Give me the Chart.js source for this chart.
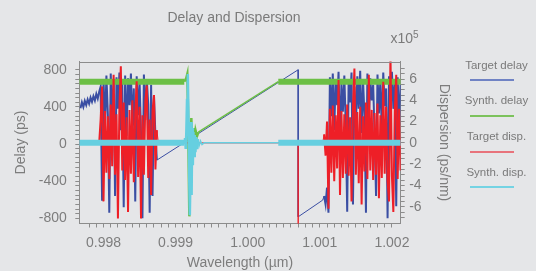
<!DOCTYPE html>
<html>
<head>
<meta charset="utf-8">
<title>Delay and Dispersion</title>
<script src="https://cdn.jsdelivr.net/npm/chart.js@4.4.1/dist/chart.umd.min.js"></script>
<style>
  html, body { margin: 0; padding: 0; background: #e5e6e8; }
  #wrap { position: relative; width: 536px; height: 271px; background: #e5e6e8;
          font-family: 'Liberation Sans', Arial, sans-serif; color: #7a7a7a; }
  #delay-chart { position: absolute; left: 0; top: 0; }
  #chart-title { position: absolute; left: 234px; top: 10.4px; transform: translateX(-50%);
                 font-size: 14px; line-height: 14px; white-space: nowrap; }
  #disp-exp { position: absolute; left: 390.5px; top: 30.8px; font-size: 14px; line-height: 14px; }
  #disp-exp span { position: relative; top: -5px; font-size: 10px; }
  .legend-text { position: absolute; left: 461.5px; width: 70px; text-align: center;
                 font-size: 11.5px; line-height: 11.5px; white-space: nowrap; }
  .legend-line { position: absolute; left: 470px; width: 44px; height: 2px; }
</style>
</head>
<body>
<div id="wrap">
  <canvas id="delay-chart" width="536" height="271"></canvas>
  <div id="chart-title">Delay and Dispersion</div>
  <div id="disp-exp">x10<span>5</span></div>
  <div id="legend"></div>
</div>
<script>
// --- 1. DATA (wavelength in µm, delay in ps, dispersion in 1e5 ps/nm) ---
const seriesNames = ['Target delay', 'Synth. delay', 'Target disp.', 'Synth. disp.'];

const xTickValues = [0.998, 0.999, 1.000, 1.001, 1.002];
const xTickLabels = ['0.998', '0.999', '1.000', '1.001', '1.002'];
const delayTickValues = [-800, -400, 0, 400, 800];
const delayTickLabels = ['-800', '-400', '0', '400', '800'];
const dispTickValues = [-6, -4, -2, 0, 2, 4, 6];
const dispTickLabels = ['-6', '-4', '-2', '0', '2', '4', '6'];

// target delay, rising part before the first noisy band
const preBandX = [0.99768, 0.99770, 0.99772, 0.99774, 0.99776, 0.99778, 0.99780,
                  0.99782, 0.99784, 0.99786, 0.99788, 0.99790, 0.99792, 0.99794];
const preBandDelay = [385, 450, 400, 465, 420, 480, 435, 500, 455, 515, 470, 540, 490, 565];

// first noisy band (target delay + target dispersion share the samples)
const bandAX = [0.99796, 0.99798, 0.99800, 0.99802, 0.99804, 0.99806, 0.99808, 0.99810,
                0.99812, 0.99814, 0.99816, 0.99818, 0.99820, 0.99822, 0.99824, 0.99826,
                0.99828, 0.99830, 0.99832, 0.99834, 0.99836, 0.99838, 0.99840, 0.99842,
                0.99844, 0.99846, 0.99848, 0.99850, 0.99852, 0.99854, 0.99856, 0.99858,
                0.99860, 0.99862, 0.99864, 0.99866, 0.99868, 0.99870, 0.99872, 0.99874];
const bandADelay = [620, -610, 700, 180, 740, 320, -740, 760, 250, 690,
                    -560, 720, 380, 770, 150, 650, -680, 740, 90, 710,
                    420, 760, 200, 600, -620, 730, 310, 680, 120, -800,
                    750, 260, 700, 430, -740, 640, -560, 520, 90, -173];
const bandADisp = [2.2, 5.3, -5.5, 3.0, -2.8, 2.5, -3.4, 3.6, -2.2, 6.4,
                   -3.0, 2.7, -7.1, 3.3, 7.2, -2.6, 3.8, -3.5, 2.4, -6.5,
                   3.1, -2.9, 4.0, -3.7, 2.8, 5.8, -3.2, 3.4, -7.1, 2.6,
                   -3.0, 3.9, 5.4, -3.3, 2.2, -4.9, 3.0, 4.5, -2.5, 1.2];

// target delay: linear part, wrap at 1.0007 µm, then climb into second band
const wrapX = [1.00070, 1.00070, 1.00104];
const wrapDelay = [801, -784, -604];

// second noisy band
const bandBX = [1.00106, 1.00108, 1.00110, 1.00112, 1.00114, 1.00116, 1.00118, 1.00120,
                1.00122, 1.00124, 1.00126, 1.00128, 1.00130, 1.00132, 1.00134, 1.00136,
                1.00138, 1.00140, 1.00142, 1.00144, 1.00146, 1.00148, 1.00150, 1.00152,
                1.00154, 1.00156, 1.00158, 1.00160, 1.00162, 1.00164, 1.00166, 1.00168,
                1.00170, 1.00172, 1.00174, 1.00176, 1.00178, 1.00180, 1.00182, 1.00184,
                1.00186, 1.00188, 1.00190, 1.00192, 1.00194, 1.00196, 1.00198, 1.00200,
                1.00202, 1.00204, 1.00206, 1.00208, 1.00210, 1.00212];
const bandBDelay = [-560, -650, -470, -740, 720, 300, 760, 150, 690, 420,
                    780, 60, 650, 350, 740, 200, -730, 700, 450, 770,
                    -650, 620, 180, 730, 380, 790, 120, 680, 300, -740,
                    760, 240, 710, 470, 640, 100, -560, 750, 330, 690,
                    140, 770, 410, 600, -800, 730, 260, 780, 380, 660,
                    -670, 720, 200, 640];
const bandBDisp = [0.8, -1.2, 2.0, -6.2, 3.2, -2.8, 3.5, -3.6, 2.6, -2.4,
                   5.9, -4.9, 3.0, -3.3, 2.7, -2.9, 3.6, -3.1, 2.4, -5.5,
                   3.3, 7.0, -3.0, 2.9, -3.8, 3.4, -5.8, 2.5, -2.7, 3.8,
                   -3.4, 6.4, -2.6, 3.1, -3.5, 2.8, -3.0, 3.7, -5.2, 2.6,
                   -3.3, 5.75, -2.9, 3.4, -3.6, -5.5, 8.5, -3.1, -6.5, 3.0,
                   6.4, -3.4, 3.2, -2.6];

// target dispersion outside the bands (spike at the delay wrap)
const dispPreX = [0.99767, 0.99794];
const dispPre = [0, 0];
const dispMidX = [0.99876, 1.000699, 1.00070, 1.000701, 1.00104];
const dispMid = [0, 0, -9, 0, 0];

// synthesized delay
const synthDelayX = [0.997664, 0.99912, 0.999148, 0.999162, 0.999172, 0.999190, 0.999204,
                     0.999218, 0.999232, 0.999246, 0.999259, 0.999276, 0.999297, 0.999315,
                     1.000424, 1.002122];
const synthDelay = [672, 672, 712, 755, 366, -779, -174, 280, -12, 172, 42, 150, 85, 129, 672, 672];

// synthesized dispersion
const synthDispX = [0.997664, 0.999117, 0.999130, 0.999140, 0.999148, 0.999158, 0.999169,
                    0.999179, 0.999189, 0.999197, 0.999207, 0.999214, 0.999222, 0.999230,
                    0.999239, 0.999247, 0.999255, 0.999265, 0.999275, 0.999286, 0.999297,
                    0.999311, 0.999325, 0.999345, 0.999366, 0.999394, 1.000424, 1.002122];
const synthDisp = [0, 0, 0.45, -0.58, 0.92, 4.03, 6.48, 2.15, -3.50, -6.80, -2.56, 1.96,
                   -4.91, 1.39, -2.09, 1.02, -1.24, 0.73, -0.87, 0.55, -0.58, 0.36, -0.30,
                   0.17, -0.16, 0, 0, 0];

// wavelength ranges where the synthesized curves are a fuzzy (noisy) band,
// and the range of the ringing around 0.9992 µm
const noisyRanges = [[0.99766, 0.999125], [1.00042, 1.00213]];
const ringingRanges = [[0.999117, 0.999315]];

document.addEventListener('DOMContentLoaded', function() {

    // --- 2. STYLE ---
    const seriesColors = ['#3a4ea3', '#6cbf45', '#ee1f27', '#66cfe0'];
    const legendColors = ['#7083c4', '#7cc25c', '#e8737c', '#74d3e3'];
    const axisColor = '#8c8c8c';
    const textColor = '#7d7d7d';
    Chart.defaults.font.family = "'Liberation Sans', Arial, sans-serif";

    // --- 3. HELPERS ---
    function toPoints(xs, ys) {
        return xs.map((x, i) => ({ x: x, y: ys[i] }));
    }
    function labelFor(values, labels, tol) {
        return v => {
            const i = values.findIndex(t => Math.abs(t - v) < tol);
            return i >= 0 ? labels[i] : '';
        };
    }
    function keepStepTicks(step) {
        return scale => {
            scale.ticks = scale.ticks.filter(t => Math.abs(t.value / step - Math.round(t.value / step)) < 1e-6);
        };
    }
    function inRanges(ranges, a, b) {
        return ranges.some(r => a >= r[0] && b <= r[1]);
    }
    // the dense target bands are drawn a little heavier so the zigzag fills in
    const targetBands = [[preBandX[0], bandAX[bandAX.length - 1]], [bandBX[0], bandBX[bandBX.length - 1]]];
    const targetSegment = { borderWidth: c => inRanges(targetBands, c.p0.parsed.x, c.p1.parsed.x) ? 2 : 1 };
    const synthSegment = {
        borderWidth: c => {
            if (inRanges(noisyRanges, c.p0.parsed.x, c.p1.parsed.x)) return 6;
            if (inRanges(ringingRanges, c.p0.parsed.x, c.p1.parsed.x)) return 2.5;
            return 1.5;
        }
    };

    const targetDelayPoints = [].concat(
        toPoints(preBandX, preBandDelay), toPoints(bandAX, bandADelay),
        toPoints(wrapX, wrapDelay), toPoints(bandBX, bandBDelay));
    const targetDispPoints = [].concat(
        toPoints(dispPreX, dispPre), toPoints(bandAX, bandADisp),
        toPoints(dispMidX, dispMid), toPoints(bandBX, bandBDisp));

    // top edge of the plot frame
    const frameTop = {
        id: 'frameTop',
        afterDraw(chart) {
            const { ctx, chartArea: a } = chart;
            ctx.save();
            ctx.strokeStyle = axisColor;
            ctx.lineWidth = 1;
            ctx.beginPath();
            ctx.moveTo(a.left, Math.round(a.top) + 0.5);
            ctx.lineTo(a.right, Math.round(a.top) + 0.5);
            ctx.stroke();
            ctx.restore();
        }
    };

    function axisGrid() {
        return { display: true, drawOnChartArea: false, drawTicks: true, tickLength: 4, tickColor: axisColor };
    }

    // --- 4. CHART ---
    const ctx = document.getElementById('delay-chart').getContext('2d');
    new Chart(ctx, {
        type: 'line',
        data: {
            datasets: [
                { label: seriesNames[0], data: targetDelayPoints, yAxisID: 'yDelay', order: 4,
                  borderColor: seriesColors[0], borderWidth: 1, segment: targetSegment },
                { label: seriesNames[1], data: toPoints(synthDelayX, synthDelay), yAxisID: 'yDelay', order: 3,
                  borderColor: seriesColors[1], borderWidth: 1.5, segment: synthSegment },
                { label: seriesNames[2], data: targetDispPoints, yAxisID: 'yDisp', order: 2,
                  borderColor: seriesColors[2], borderWidth: 1, segment: targetSegment },
                { label: seriesNames[3], data: toPoints(synthDispX, synthDisp), yAxisID: 'yDisp', order: 1,
                  borderColor: seriesColors[3], borderWidth: 1.5, segment: synthSegment }
            ]
        },
        options: {
            responsive: false,
            animation: false,
            devicePixelRatio: 1,
            layout: { padding: { top: 61.5, right: 80, bottom: 0, left: 0 } },
            elements: { point: { radius: 0 }, line: { tension: 0 } },
            plugins: { legend: { display: false }, tooltip: { enabled: false }, title: { display: false } },
            scales: {
                x: {
                    type: 'linear', position: 'bottom', min: 0.997664, max: 1.002122,
                    afterFit: s => { s.height = 47.5; },
                    afterBuildTicks: keepStepTicks(0.0001),
                    grid: axisGrid(),
                    border: { display: true, color: axisColor },
                    ticks: { stepSize: 0.0001, autoSkip: false, maxRotation: 0, padding: 7,
                             color: textColor, font: { size: 14 },
                             callback: labelFor(xTickValues, xTickLabels, 0.00001) },
                    title: { display: true, text: 'Wavelength (µm)', color: textColor,
                             font: { size: 14, lineHeight: 1.1 }, padding: 0 }
                },
                yDelay: {
                    type: 'linear', position: 'left', min: -856, max: 890,
                    afterFit: s => { s.width = 79.3; },
                    afterBuildTicks: keepStepTicks(50),
                    grid: axisGrid(),
                    border: { display: true, color: axisColor },
                    ticks: { stepSize: 50, autoSkip: false, padding: 8.5, color: textColor, font: { size: 14 },
                             callback: labelFor(delayTickValues, delayTickLabels, 1) },
                    title: { display: true, text: 'Delay (ps)', color: textColor,
                             font: { size: 14, lineHeight: 1.1 }, padding: { top: 13.3, bottom: 0 } }
                },
                yDisp: {
                    type: 'linear', position: 'right', min: -7.58, max: 7.65,
                    afterFit: s => { s.width = 55.3; },
                    afterBuildTicks: keepStepTicks(0.5),
                    grid: axisGrid(),
                    border: { display: true, color: axisColor },
                    ticks: { stepSize: 0.5, autoSkip: false, padding: 4.5, color: textColor, font: { size: 14 },
                             callback: labelFor(dispTickValues, dispTickLabels, 0.01) },
                    title: { display: true, text: 'Dispersion (ps/nm)', color: textColor,
                             font: { size: 14, lineHeight: 1.1 }, padding: { top: 4, bottom: 0 } }
                }
            }
        },
        plugins: [frameTop]
    });

    // --- 5. LEGEND (text above a short line, as in the original) ---
    const legend = document.getElementById('legend');
    const legendFirstTop = 59.6;
    const legendGap = 35.8;
    seriesNames.forEach((name, i) => {
        const top = legendFirstTop + i * legendGap;
        legend.insertAdjacentHTML('beforeend',
            `<div class="legend-text" style="top:${top}px">${name}</div>` +
            `<div class="legend-line" style="top:${top + 19.4}px; background:${legendColors[i]}"></div>`);
    });
});
</script>
</body>
</html>
